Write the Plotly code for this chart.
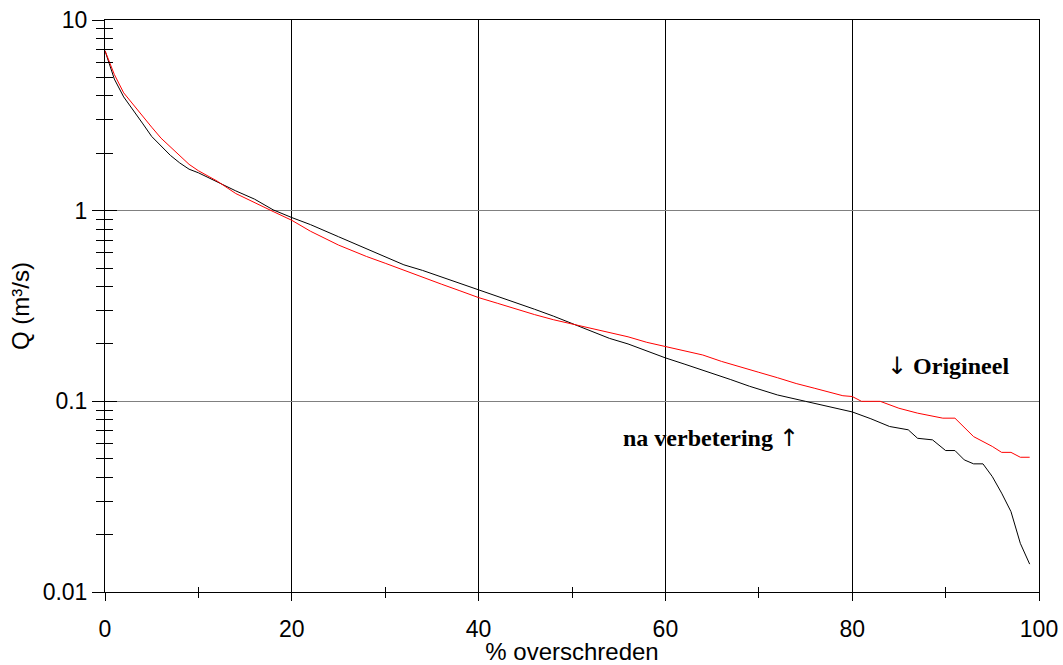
import plotly.graph_objects as go

# Flow-duration data: percentage of time exceeded vs discharge Q (m3/s)
pct_na = [0, 1, 2, 3, 4, 5, 6, 7, 8, 9, 10, 12, 14, 16, 18, 20, 22, 25, 28, 30,
          32, 34, 36, 38, 40, 42, 44, 46, 48, 50, 52, 54, 56, 58, 60, 62, 64, 65,
          67, 69, 71, 72, 75, 78, 80, 82, 84, 86, 87, 88.6, 90, 91, 92, 93, 94,
          95, 96, 97, 98, 99]
q_na = [6.9, 4.9, 3.95, 3.39, 2.88, 2.45, 2.18, 1.95, 1.78, 1.65, 1.58, 1.41,
        1.27, 1.15, 1.01, 0.92, 0.845, 0.73, 0.63, 0.57, 0.52, 0.486, 0.45,
        0.416, 0.385, 0.356, 0.329, 0.304, 0.28, 0.256, 0.233, 0.214, 0.20,
        0.184, 0.169, 0.157, 0.146, 0.14, 0.13, 0.12, 0.112, 0.108, 0.1, 0.093,
        0.088, 0.081, 0.0738, 0.0709, 0.064, 0.0628, 0.0552, 0.0552, 0.0493,
        0.047, 0.047, 0.0403, 0.033, 0.0264, 0.018, 0.014]

pct_orig = [0, 1, 2, 3, 4, 5, 6, 7, 8, 9, 10, 12, 14, 16, 18, 20, 22, 25, 28,
            30, 32, 34, 36, 38, 40, 42, 44, 46, 48, 50, 52, 54, 56, 58, 60, 62,
            64, 66, 67, 70, 72, 74, 76, 78, 79, 80, 81, 83, 85, 87, 89.7, 91,
            93, 95, 96, 97, 98, 99]
q_orig = [6.9, 5.18, 4.15, 3.6, 3.13, 2.74, 2.4, 2.16, 1.95, 1.75, 1.62, 1.43,
          1.23, 1.1, 0.99, 0.89, 0.78, 0.66, 0.575, 0.53, 0.486, 0.45, 0.412,
          0.38, 0.35, 0.327, 0.305, 0.285, 0.268, 0.254, 0.242, 0.229, 0.218,
          0.204, 0.194, 0.183, 0.175, 0.162, 0.157, 0.142, 0.133, 0.124, 0.117,
          0.11, 0.107, 0.106, 0.1, 0.1, 0.092, 0.0867, 0.0816, 0.0816, 0.0653,
          0.058, 0.054, 0.054, 0.0509, 0.0509]

x_ticks = [0, 20, 40, 60, 80, 100]
y_ticks = [0.01, 0.1, 1, 10]
y_tick_text = ["0.01", "0.1", "1", "10"]
y_minor = [k * 10.0 ** e for e in (-2, -1, 0) for k in range(2, 10)]
x_minor = [10, 30, 50, 70, 90]

FONT = "Arial, Liberation Sans, sans-serif"
SERIF = "Liberation Serif, Times New Roman, serif"
ARROW = "<span style='font-family:DejaVu Sans;font-weight:normal'>{}</span>"

fig = go.Figure()
fig.add_trace(go.Scatter(x=pct_na, y=q_na, mode="lines",
                         line=dict(color="black", width=1), showlegend=False))
fig.add_trace(go.Scatter(x=pct_orig, y=q_orig, mode="lines", xaxis="x2", yaxis="y2",
                         line=dict(color="#ff0000", width=1), showlegend=False))

fig.update_layout(
    width=1063, height=665,
    margin=dict(l=105, r=24, t=20, b=73, autoexpand=False),
    paper_bgcolor="white", plot_bgcolor="white",
    font=dict(family=FONT, size=23, color="black"),
    xaxis=dict(
        range=[0, 100], tickmode="array", tickvals=x_ticks, automargin=False,
        ticks="outside", ticklen=8, tickcolor="black", tickwidth=1,
        showgrid=True, gridcolor="black", gridwidth=1, zeroline=False,
        showline=True, linecolor="black", linewidth=1, mirror=True,
        minor=dict(tickmode="array", tickvals=x_minor, ticks="outside",
                   ticklen=5, tickcolor="black", showgrid=False),
        title=dict(text="% overschreden", font=dict(size=24), standoff=0),
        tickfont=dict(size=23), ticklabelstandoff=8,
    ),
    yaxis=dict(
        type="log", range=[-2, 1], tickmode="array", tickvals=y_ticks,
        ticktext=y_tick_text, ticks="outside", ticklen=12, tickcolor="black",
        automargin=False,
        showgrid=True, gridcolor="#808080", gridwidth=1, zeroline=False,
        showline=True, linecolor="black", linewidth=1, mirror=True,
        minor=dict(tickmode="array", tickvals=y_minor, ticks="outside",
                   ticklen=8, tickcolor="black", showgrid=False),
        title=dict(text="Q (m³/s)", font=dict(size=24), standoff=6),
        tickfont=dict(size=23),
    ),
    xaxis2=dict(
        range=[0, 100], overlaying="x", side="bottom", tickmode="array",
        tickvals=x_ticks, ticks="", showticklabels=False, showgrid=False,
        zeroline=False, showline=False, automargin=False,
        minor=dict(tickmode="array", tickvals=x_minor, ticks="inside",
                   ticklen=5, tickcolor="black", showgrid=False),
    ),
    yaxis2=dict(
        type="log", range=[-2, 1], overlaying="y", side="left", tickmode="array",
        tickvals=y_ticks, ticks="inside", ticklen=12, tickcolor="black",
        showticklabels=False, showgrid=False, zeroline=False, showline=False,
        automargin=False,
        minor=dict(tickmode="array", tickvals=y_minor, ticks="inside",
                   ticklen=8, tickcolor="black", showgrid=False),
    ),
    annotations=[
        dict(x=90.3, y=-0.814, xref="x", yref="y",
             text=ARROW.format("↓") + " <b>Origineel</b>",
             showarrow=False, font=dict(family=SERIF, size=24, color="black")),
        dict(x=64.9, y=-1.192, xref="x", yref="y",
             text="<b>na verbetering</b> " + ARROW.format("↑"),
             showarrow=False, font=dict(family=SERIF, size=24, color="black")),
    ],
)

fig.write_html("out.html")
